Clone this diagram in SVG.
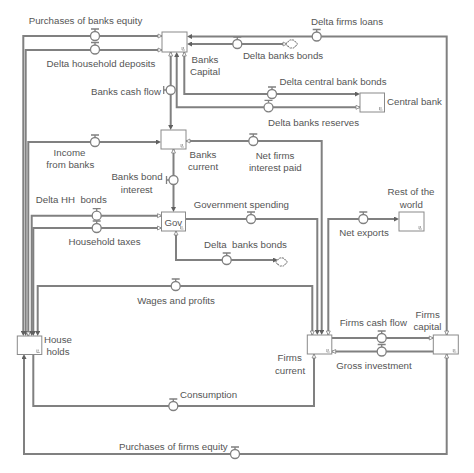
<svg xmlns="http://www.w3.org/2000/svg" width="474" height="473" viewBox="0 0 474 473">
<style>
.pipe{fill:none;stroke:#808080;stroke-width:2}
.stock{fill:#fff;stroke:#8a8a8a;stroke-width:1}
.mark{fill:none;stroke:#8a8a8a;stroke-width:0.7}
.vc{fill:#fff;stroke:#808080;stroke-width:1.3}
.vb{fill:none;stroke:#808080;stroke-width:1.3}
.cloud{fill:#fff;stroke:#6a6a6a;stroke-width:1;stroke-dasharray:2 0.7}
text{font-family:"Liberation Sans",Arial,sans-serif;font-size:9.7px;fill:#555;white-space:pre}
.m{text-anchor:middle}
.e{text-anchor:end}
</style>
<defs>
<marker id="af" viewBox="0 0 5 5" refX="2" refY="2.5" markerWidth="5" markerHeight="5" markerUnits="userSpaceOnUse" orient="auto">
<path d="M0,0 L5,2.5 L0,5 z" fill="#606060"/>
</marker>
<marker id="ah" viewBox="-1 -3 6 6" refX="0" refY="0" markerWidth="6" markerHeight="6" markerUnits="userSpaceOnUse" orient="auto">
<path d="M0,0 L4,-2 L4,2 z" fill="#fff" stroke="#808080" stroke-width="0.8"/>
</marker>
<g id="vh"><circle class="vc" cx="0" cy="0" r="4.5"/><path class="vb" d="M-4,-7 H4 M0,-7 V-4.5"/></g>
<g id="vv"><circle class="vc" cx="0" cy="0" r="4.5"/><path class="vb" d="M-7,-4 V4 M-7,0 H-4.5"/></g>
<path id="cl" class="cloud" d="M-3.3,2.2 a2.2,2.2 0 0 1 0,-4.4 a2.4,2.4 0 0 1 3.3,-1.7 a2.4,2.4 0 0 1 3.3,1.7 a2.2,2.2 0 0 1 0,4.4 a2.4,2.4 0 0 1 -3.3,1.7 a2.4,2.4 0 0 1 -3.3,-1.7 z"/>
<path id="sm" class="mark" d="M-5,-5 v3 h3 M-3.5,-5 v2"/>
</defs>

<g id="connectors">
<path class="pipe" d="M162,36 H23.3 V333" marker-start="url(#ah)" marker-end="url(#af)"/>
<path class="pipe" d="M162,50 H25.7 V333" marker-start="url(#ah)" marker-end="url(#af)"/>
<path class="pipe" d="M28.3,336 V142 H158" marker-start="url(#ah)" marker-end="url(#af)"/>
<path class="pipe" d="M161.5,215.7 H31.7 V333" marker-start="url(#ah)" marker-end="url(#af)"/>
<path class="pipe" d="M161.5,228 H33.3 V333" marker-start="url(#ah)" marker-end="url(#af)"/>
<path class="pipe" d="M312.3,335 V286 H37.7 V333" marker-start="url(#ah)" marker-end="url(#af)"/>
<path class="pipe" d="M185.5,219 H317.3 V332" marker-end="url(#af)"/>
<path class="pipe" d="M186,141 H321.7 V332" marker-start="url(#ah)" marker-end="url(#af)"/>
<path class="pipe" d="M328.3,335 V219 H396" marker-start="url(#ah)" marker-end="url(#af)"/>
<path class="pipe" d="M314,354 V406 H33.3 V354" marker-start="url(#ah)"/>
<path class="pipe" d="M446.7,354 V454 H24 V357" marker-start="url(#ah)" marker-end="url(#af)"/>
<path class="pipe" d="M446.7,335 V36.5 H190" marker-start="url(#ah)" marker-end="url(#af)"/>
<path class="pipe" d="M287,44 H190" marker-start="url(#ah)" marker-end="url(#af)"/>
<path class="pipe" d="M170.7,52 V127" marker-start="url(#ah)" marker-end="url(#af)"/>
<path class="pipe" d="M360,107.3 H176.7 V55" marker-start="url(#ah)" marker-end="url(#af)"/>
<path class="pipe" d="M184.3,52 V94 H357" marker-start="url(#ah)" marker-end="url(#af)"/>
<path class="pipe" d="M173.5,149 V209" marker-start="url(#ah)" marker-end="url(#af)"/>
<path class="pipe" d="M176,231 V260 H275" marker-start="url(#ah)" marker-end="url(#af)"/>
<path class="pipe" d="M433.3,338 H331.7" marker-start="url(#ah)"/>
<path class="pipe" d="M331.7,351.5 H433.3" marker-start="url(#ah)"/>
</g>

<g id="banks-capital"><rect class="stock" x="162" y="32" width="25" height="20"/><use href="#sm" x="187" y="52"/>
<text class="m" x="205" y="62.5">Banks</text><text class="m" x="205" y="75">Capital</text></g>
<g id="banks-current"><rect class="stock" x="161" y="130" width="25" height="19"/><use href="#sm" x="186" y="149"/>
<text class="m" x="203" y="158">Banks</text><text class="m" x="203" y="170">current</text></g>
<g id="gov"><rect class="stock" x="161.5" y="212" width="24" height="19"/><use href="#sm" x="185.5" y="231"/>
<text class="m" x="173.3" y="225.5">Gov</text></g>
<g id="central-bank"><rect class="stock" x="360" y="93" width="24.5" height="19"/><use href="#sm" x="384.5" y="112"/>
<text x="387" y="105">Central bank</text></g>
<g id="rest-of-world"><rect class="stock" x="399" y="212" width="25" height="19"/><use href="#sm" x="424" y="231"/>
<text class="m" x="411" y="195">Rest of the</text><text class="m" x="411.3" y="207.5">world</text></g>
<g id="households"><rect class="stock" x="17.3" y="336" width="24.5" height="18.5"/><use href="#sm" x="41.8" y="354.5"/>
<text class="m" x="58" y="342.5">House</text><text class="m" x="58" y="355">holds</text></g>
<g id="firms-current"><rect class="stock" x="307.3" y="335" width="24.5" height="19"/><use href="#sm" x="331.8" y="354"/>
<text class="m" x="289.7" y="361">Firms</text><text class="m" x="290" y="373.5">current</text></g>
<g id="firms-capital"><rect class="stock" x="433.3" y="335" width="25" height="19"/><use href="#sm" x="458.3" y="354"/>
<text class="m" x="427.7" y="317.5">Firms</text><text class="m" x="427.5" y="329.5">capital</text></g>

<g id="cloud-upper"><use href="#cl" x="291.7" y="44"/></g>
<g id="cloud-lower"><use href="#cl" x="281.5" y="262"/></g>

<g id="f-purchases-banks-equity"><use href="#vh" x="95" y="36"/><text class="m" x="85.5" y="23.5">Purchases of banks equity</text></g>
<g id="f-delta-household-deposits"><use href="#vh" x="95" y="49.5"/><text class="m" x="101" y="67">Delta household deposits</text></g>
<g id="f-income-from-banks"><use href="#vh" x="95" y="142"/><text class="m" x="69.5" y="155.5">Income</text><text class="m" x="70.3" y="167.5">from banks</text></g>
<g id="f-delta-hh-bonds"><use href="#vh" x="96.7" y="215.7"/><text class="m" x="71.3" y="203">Delta HH  bonds</text></g>
<g id="f-household-taxes"><use href="#vh" x="96.7" y="228"/><text class="m" x="104.5" y="245">Household taxes</text></g>
<g id="f-wages-profits"><use href="#vh" x="175.7" y="286"/><text class="m" x="176" y="303.5">Wages and profits</text></g>
<g id="f-government-spending"><use href="#vh" x="251" y="219"/><text class="m" x="241.3" y="207.5">Government spending</text></g>
<g id="f-net-firms-interest"><use href="#vh" x="253.3" y="141"/><text class="m" x="275" y="159">Net firms</text><text class="m" x="275.3" y="171">interest paid</text></g>
<g id="f-net-exports"><use href="#vh" x="363.3" y="219"/><text class="m" x="364" y="236">Net exports</text></g>
<g id="f-consumption"><use href="#vh" x="173.3" y="406"/><text x="180" y="398">Consumption</text></g>
<g id="f-purchases-firms-equity"><use href="#vh" x="235" y="454"/><text class="e" x="227.7" y="449.5">Purchases of firms equity</text></g>
<g id="f-delta-firms-loans"><use href="#vh" x="316.7" y="36.5"/><text class="m" x="347" y="24.5">Delta firms loans</text></g>
<g id="f-delta-banks-bonds-1"><use href="#vh" x="237.3" y="44"/><text class="m" x="283" y="58.5">Delta banks bonds</text></g>
<g id="f-banks-cash-flow"><use href="#vv" x="170.7" y="90"/><text class="e" x="161" y="94.5">Banks cash flow</text></g>
<g id="f-delta-banks-reserves"><use href="#vh" x="268.5" y="107.3"/><text class="m" x="313.5" y="126">Delta banks reserves</text></g>
<g id="f-delta-central-bank-bonds"><use href="#vh" x="272" y="94"/><text class="m" x="333" y="85">Delta central bank bonds</text></g>
<g id="f-banks-bond-interest"><use href="#vv" x="173.5" y="180"/><text class="m" x="137" y="180">Banks bond</text><text class="m" x="136.7" y="193">interest</text></g>
<g id="f-delta-banks-bonds-2"><use href="#vh" x="226.7" y="260"/><text class="m" x="245.5" y="247.5">Delta  banks bonds</text></g>
<g id="f-firms-cash-flow"><use href="#vh" x="381.7" y="338"/><text class="m" x="373.3" y="326">Firms cash flow</text></g>
<g id="f-gross-investment"><use href="#vh" x="381.7" y="351.5"/><text class="m" x="374" y="369">Gross investment</text></g>
</svg>
